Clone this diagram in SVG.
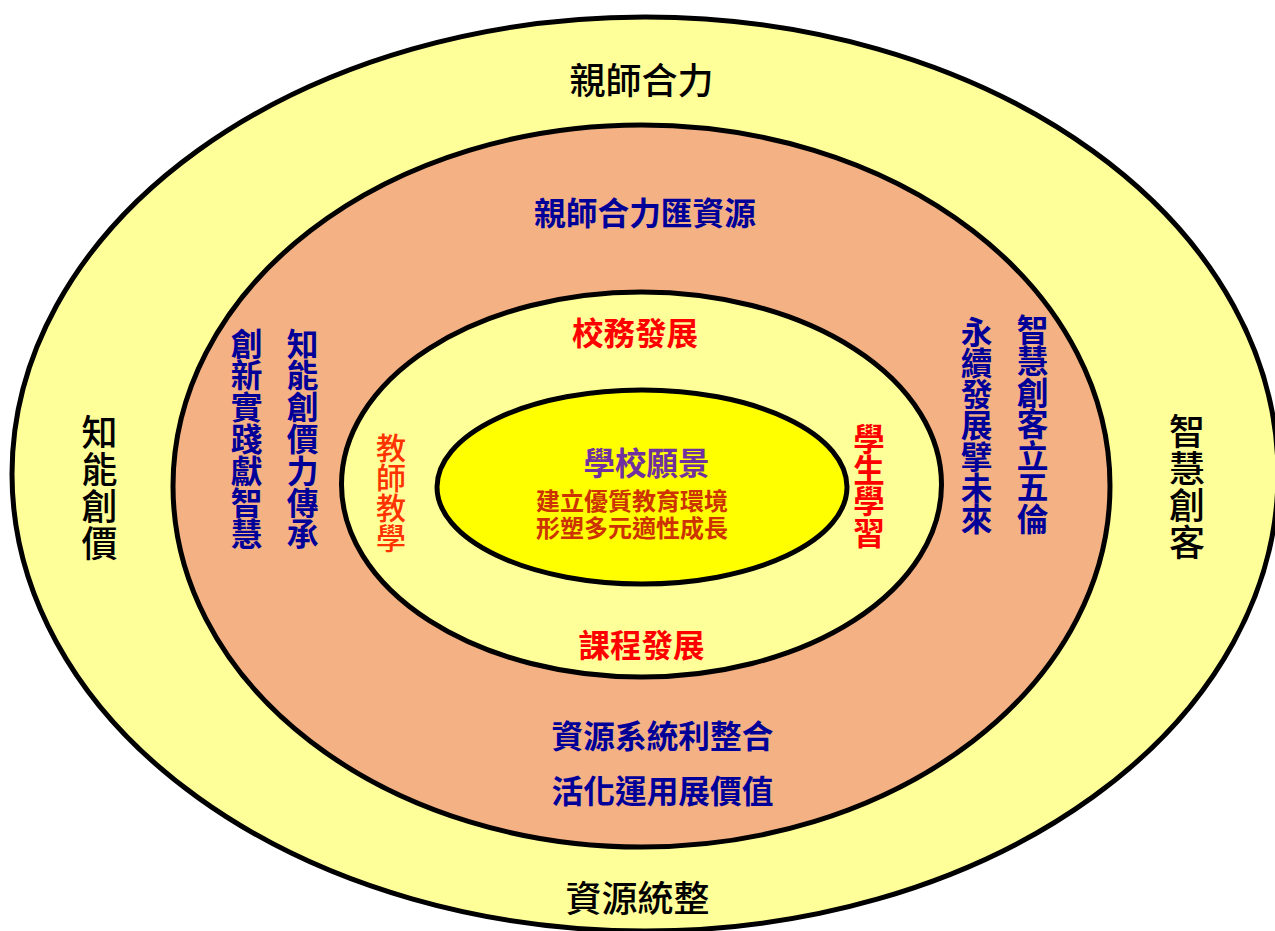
<svg xmlns="http://www.w3.org/2000/svg" width="1275" height="931" viewBox="0 0 1275 931">
<style>
  .ring { stroke: #000; stroke-width: 5; }
  .pale { fill: #FFFF99; }
  .orange { fill: #F4B183; }
  .core { fill: #FFFF00; }
  text { font-family: "Noto Sans CJK TC", "Noto Sans CJK SC", sans-serif; font-weight: 700; text-anchor: middle; dominant-baseline: central; }
  .black { fill: #000; font-size: 36px; font-weight: 500; }
  .blue { fill: #000099; font-size: 31.7px; }
  .red { fill: #FF0000; font-size: 31.5px; }
  .ored { fill: #FF3300; font-size: 30px; font-weight: 500; }
  .purple { fill: #7030A0; font-size: 31.5px; }
  .brown { fill: #CC3300; font-size: 24px; }
</style>
<rect x="0" y="0" width="1275" height="931" fill="#FFFFFF"/>
<g id="outer-ring">
  <ellipse class="ring pale" cx="645" cy="474" rx="633" ry="457"/>
  <text class="black" x="641.5" y="78">親師合力</text>
  <text class="black" x="637.5" y="896">資源統整</text>
  <text class="black"><tspan x="99.5" y="430">知</tspan><tspan x="99.5" y="467">能</tspan><tspan x="99.5" y="504">創</tspan><tspan x="99.5" y="541">價</tspan></text>
  <text class="black"><tspan x="1187" y="429">智</tspan><tspan x="1187" y="466">慧</tspan><tspan x="1187" y="503">創</tspan><tspan x="1187" y="540">客</tspan></text>
</g>
<g id="orange-ring">
  <ellipse class="ring orange" cx="641.5" cy="486" rx="468.5" ry="361"/>
  <text class="blue" x="645" y="211">親師合力匯資源</text>
  <text class="blue" x="662.5" y="734">資源系統利整合</text>
  <text class="blue" x="662.5" y="789">活化運用展價值</text>
  <text class="blue"><tspan x="246.5" y="341.5">創</tspan><tspan x="246.5" y="373.3">新</tspan><tspan x="246.5" y="405.1">實</tspan><tspan x="246.5" y="436.9">踐</tspan><tspan x="246.5" y="468.7">獻</tspan><tspan x="246.5" y="500.5">智</tspan><tspan x="246.5" y="532.3">慧</tspan></text>
  <text class="blue"><tspan x="302.5" y="341.5">知</tspan><tspan x="302.5" y="373.3">能</tspan><tspan x="302.5" y="405.1">創</tspan><tspan x="302.5" y="436.9">價</tspan><tspan x="302.5" y="468.7">力</tspan><tspan x="302.5" y="500.5">傳</tspan><tspan x="302.5" y="532.3">承</tspan></text>
  <text class="blue"><tspan x="976.5" y="329.5">永</tspan><tspan x="976.5" y="360.8">續</tspan><tspan x="976.5" y="392.1">發</tspan><tspan x="976.5" y="423.4">展</tspan><tspan x="976.5" y="454.7">擘</tspan><tspan x="976.5" y="486">未</tspan><tspan x="976.5" y="517.3">來</tspan></text>
  <text class="blue"><tspan x="1032.5" y="327.5">智</tspan><tspan x="1032.5" y="359">慧</tspan><tspan x="1032.5" y="390.5">創</tspan><tspan x="1032.5" y="422">客</tspan><tspan x="1032.5" y="453.5">立</tspan><tspan x="1032.5" y="485">五</tspan><tspan x="1032.5" y="516.5">倫</tspan></text>
</g>
<g id="middle-ring">
  <ellipse class="ring pale" cx="641.5" cy="484.5" rx="300" ry="192.5"/>
  <text class="red" x="635" y="331">校務發展</text>
  <text class="red" x="641.5" y="642.5">課程發展</text>
  <text class="ored"><tspan x="391" y="446">教</tspan><tspan x="391" y="476">師</tspan><tspan x="391" y="506">教</tspan><tspan x="391" y="536">學</tspan></text>
  <text class="red"><tspan x="869" y="436.5">學</tspan><tspan x="869" y="468">生</tspan><tspan x="869" y="499">學</tspan><tspan x="869" y="530.5">習</tspan></text>
</g>
<g id="core">
  <ellipse class="ring core" cx="642" cy="487" rx="205" ry="97"/>
  <text class="purple" x="646.5" y="461">學校願景</text>
  <text class="brown" x="632" y="499">建立優質教育環境</text>
  <text class="brown" x="632" y="526">形塑多元適性成長</text>
</g>
<g id="connectors"></g>
</svg>
